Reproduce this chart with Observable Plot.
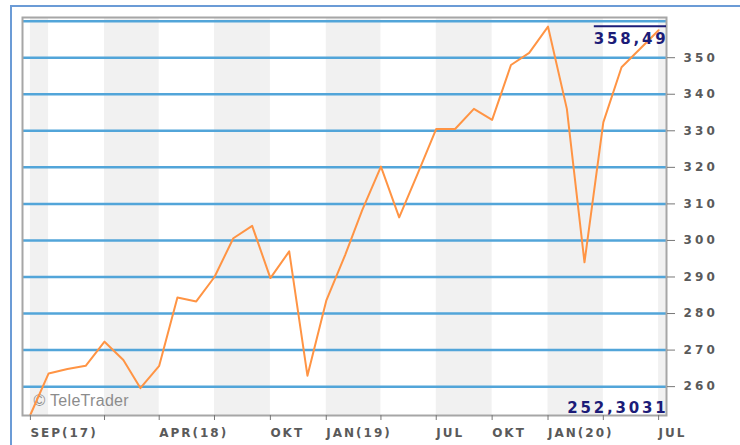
<!DOCTYPE html>
<html>
<head>
<meta charset="utf-8">
<script src="https://cdn.jsdelivr.net/npm/d3@7"></script>
<script src="https://cdn.jsdelivr.net/npm/@observablehq/plot@0.6"></script>
<style>
  html, body { margin: 0; padding: 0; background: #fff; overflow: hidden; }
  #wrap { position: relative; width: 740px; height: 445px; }
  #outer { position: absolute; left: 10px; top: 5px; width: 800px; height: 500px; border: 2px solid #6b9bd6; box-sizing: border-box; }
  #chart { position: absolute; left: 0; top: 0; }
  #chart svg text { letter-spacing: 2px; }
</style>
</head>
<body>
<div id="wrap"><div id="outer"></div><div id="chart"></div></div>
<script>
// ---- data ----
const months = [
  "2017-09-01","2017-10-01","2017-11-01","2017-12-01",
  "2018-01-01","2018-02-01","2018-03-01","2018-04-01","2018-05-01","2018-06-01",
  "2018-07-01","2018-08-01","2018-09-01","2018-10-01","2018-11-01","2018-12-01",
  "2019-01-01","2019-02-01","2019-03-01","2019-04-01","2019-05-01","2019-06-01",
  "2019-07-01","2019-08-01","2019-09-01","2019-10-01","2019-11-01","2019-12-01",
  "2020-01-01","2020-02-01","2020-03-01","2020-04-01","2020-05-01","2020-06-01","2020-07-01"
];
const values = [
  252.3031, 263.6, 264.8, 265.7,
  272.3, 267.3, 259.6, 265.7, 284.4, 283.3,
  290.0, 300.6, 304.0, 289.7, 297.0, 263.0,
  283.5, 296.0, 308.2, 320.2, 306.3, 318.5,
  330.5, 330.5, 336.0, 333.0, 348.0, 351.3,
  358.49, 336.0, 294.0, 332.3, 347.4, 352.5, 357.5
];
const xDomain = ["2017-08-19", "2020-07-14"];
const yDomain = [252.1, 361];
const tickDates = ["2017-09-01","2018-01-01","2018-04-01","2018-07-01","2018-10-01","2019-01-01",
                   "2019-04-01","2019-07-01","2019-10-01","2020-01-01","2020-04-01","2020-07-01"];
const tickLabels = ["SEP(17)","","APR(18)","","OKT","JAN(19)","","JUL","OKT","JAN(20)","","JUL"];
const yTicks = [260, 270, 280, 290, 300, 310, 320, 330, 340, 350];
const gridValues = [260, 270, 280, 290, 300, 310, 320, 330, 340, 350, 360];
const bandStarts = ["2017-09-01","2018-01-01","2018-07-01","2019-01-01","2019-07-01","2020-01-01","2020-07-01"];
const bandEnds   = ["2017-10-01","2018-04-01","2018-10-01","2019-04-01","2019-10-01","2020-04-01","2020-07-14"];
const maxLabel = "358,49";
const minLabel = "252,3031";
const maxValue = 358.49;
const watermark = "© TeleTrader";

// ---- build ----
const P = s => new Date(s + "T00:00:00Z");
const series = months.map((m, i) => ({date: P(m), value: values[i]}));
const bands = bandStarts.map((s, i) => ({start: P(s), end: P(bandEnds[i])}));
const labelMap = new Map(tickDates.map((d, i) => [P(d).getTime(), tickLabels[i]]));

const plot = Plot.plot({
  width: 740,
  height: 445,
  marginLeft: 22,
  marginTop: 17,
  marginRight: 74,
  marginBottom: 30,
  style: {background: "transparent", fontFamily: "DejaVu Sans", fontSize: "12px", overflow: "visible"},
  x: {type: "utc", domain: xDomain.map(P)},
  y: {domain: yDomain},
  marks: [
    Plot.rect(bands, {x1: "start", x2: "end", fill: "#f1f1f1"}),
    Plot.ruleY(gridValues, {stroke: "#52a5d9", strokeWidth: 2.5}),
    Plot.text([watermark], {frameAnchor: "bottom-left", dx: 11, dy: -10, textAnchor: "start", lineAnchor: "bottom",
      fill: "#8c8c8c", fontSize: 16, fontFamily: "Liberation Sans"}),
    Plot.line(series, {x: "date", y: "value", stroke: "#ff9444", strokeWidth: 2}),
    Plot.text([maxLabel], {frameAnchor: "top-right", dx: 2, dy: 16, textAnchor: "end", lineAnchor: "top",
      fill: "#1c1c78", fontWeight: "bold", fontSize: 15, fontFamily: "DejaVu Sans"}),
    Plot.text([minLabel], {frameAnchor: "bottom-right", dx: 2, dy: -3, textAnchor: "end", lineAnchor: "bottom",
      fill: "#1c1c78", fontWeight: "bold", fontSize: 15, fontFamily: "DejaVu Sans"}),
    Plot.frame({stroke: "#a6a6a6", strokeWidth: 2}),
    Plot.axisY(yTicks, {anchor: "right", tickSize: 8, tickPadding: 9, stroke: "#777", fill: "#5a5a5a",
      fontWeight: "bold", label: null}),
    Plot.axisX(tickDates.map(P), {anchor: "bottom", tickSize: 5, tickPadding: 8, stroke: "#777", fill: "#5a5a5a",
      fontWeight: "bold", textAnchor: "start", tickFormat: d => labelMap.get(d.getTime()) || "", label: null})
  ]
});
document.getElementById("chart").appendChild(plot);

// per-text letter spacing
const allTexts = Array.from(plot.querySelectorAll("text"));
const yTickStrings = new Set(yTicks.map(String));
for (const t of allTexts) {
  const s = t.textContent;
  if (s === maxLabel || s === minLabel) t.style.letterSpacing = "2.8px";
  else if (s === watermark) t.style.letterSpacing = "0.3px";
  else if (yTickStrings.has(s)) t.style.letterSpacing = "3.2px";
}

// overline above the max label, at the max value's level
const ys = plot.scale("y");
const maxText = allTexts.find(t => t.textContent === maxLabel);
if (maxText) {
  const svgBox = plot.getBoundingClientRect();
  const tb = maxText.getBoundingClientRect();
  const yPos = ys.apply(maxValue);
  const xr = plot.scale("x").apply(P(xDomain[1]));
  const line = document.createElementNS("http://www.w3.org/2000/svg", "line");
  line.setAttribute("x1", tb.left - svgBox.left);
  line.setAttribute("x2", xr);
  line.setAttribute("y1", yPos);
  line.setAttribute("y2", yPos);
  line.setAttribute("stroke", "#1c1c78");
  line.setAttribute("stroke-width", 2);
  plot.appendChild(line);
}
</script>
</body>
</html>
